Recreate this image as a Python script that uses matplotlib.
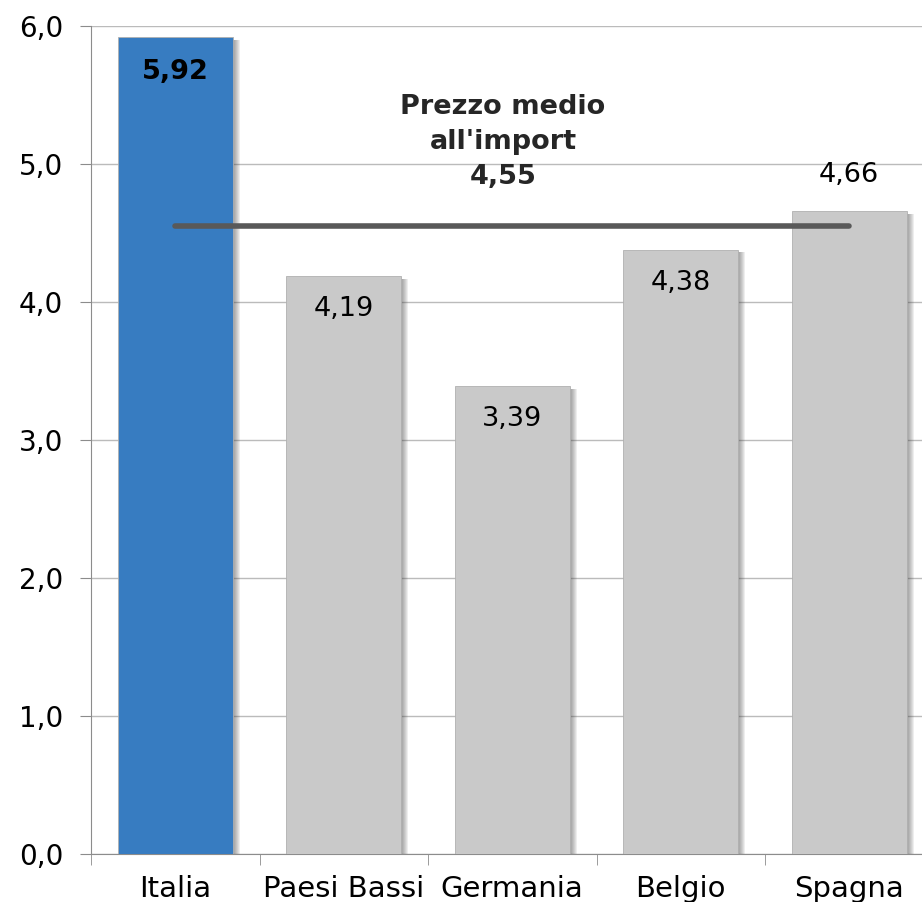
import matplotlib.pyplot as plt
import numpy as np

paesi = ['Italia', 'Paesi Bassi', 'Germania', 'Belgio', 'Spagna']
prezzi = [5.92, 4.19, 3.39, 4.38, 4.66]
media = 4.55
colori = ['#377CC1', '#C9C9C9', '#C9C9C9', '#C9C9C9', '#C9C9C9']

plt.rcParams['font.family'] = ['DejaVu Sans']

fig = plt.figure(figsize=(9.22, 9.02), dpi=100)
ax = fig.add_axes([91 / 922, 48 / 902, 842.5 / 922, 828 / 902])

x = np.arange(len(paesi))
w = 0.68
px = 1 / 168.5  # un pixel in unita' dei dati (asse x)

# ombra dietro le barre
for k in range(1, 8):
    ax.bar(x + k * px, np.array(prezzi) - 0.02, width=w, color='#444444',
           alpha=0.09, zorder=2, linewidth=0)
ax.bar(x, prezzi, width=w, color=colori, edgecolor='#B0B0B0',
       linewidth=0.6, zorder=3)

# linea del prezzo medio
ax.plot([x[0], x[-1]], [media, media], color='#595959', linewidth=4,
        solid_capstyle='round', zorder=4)
ax.text((x[0] + x[-1]) / 2 - 0.055, 5.16,
        "Prezzo medio\nall'import\n" + f'{media:.2f}'.replace('.', ','),
        ha='center', va='center', fontsize=19.5, fontweight='bold',
        color='#262626', linespacing=1.45, zorder=5)

for i, v in enumerate(prezzi):
    lab = f'{v:.2f}'.replace('.', ',')
    if i == 0:
        ax.text(x[i], v - 0.25, lab, ha='center', va='center',
                fontsize=19.5, fontweight='bold', zorder=5)
    elif v > media:
        ax.text(x[i], v + 0.26, lab, ha='center', va='center',
                fontsize=19.5, zorder=5)
    else:
        ax.text(x[i], v - 0.24, lab, ha='center', va='center',
                fontsize=19.5, zorder=5)

ax.set_xlim(-0.5, len(paesi) - 0.5)
ax.set_ylim(0, 6)
ax.set_yticks(np.arange(0, 7, 1))
ax.set_yticklabels([f'{t:.1f}'.replace('.', ',') for t in range(7)],
                   fontsize=20)
ax.set_xticks(x)
ax.set_xticklabels(paesi, fontsize=21)
ax.set_xticks(np.arange(-0.5, len(paesi), 1), minor=True)
ax.tick_params(axis='x', which='major', length=0, pad=15)
ax.tick_params(axis='x', which='minor', length=8, color='#8C8C8C')
ax.tick_params(axis='y', length=8, color='#8C8C8C', pad=12)

ax.grid(axis='y', color='#BBBBBB', linewidth=1, zorder=0)
ax.set_axisbelow(True)
for s in ['top', 'right']:
    ax.spines[s].set_visible(False)
ax.spines['left'].set_color('#8C8C8C')
ax.spines['bottom'].set_color('#8C8C8C')

fig.savefig('out.png', dpi=100)
